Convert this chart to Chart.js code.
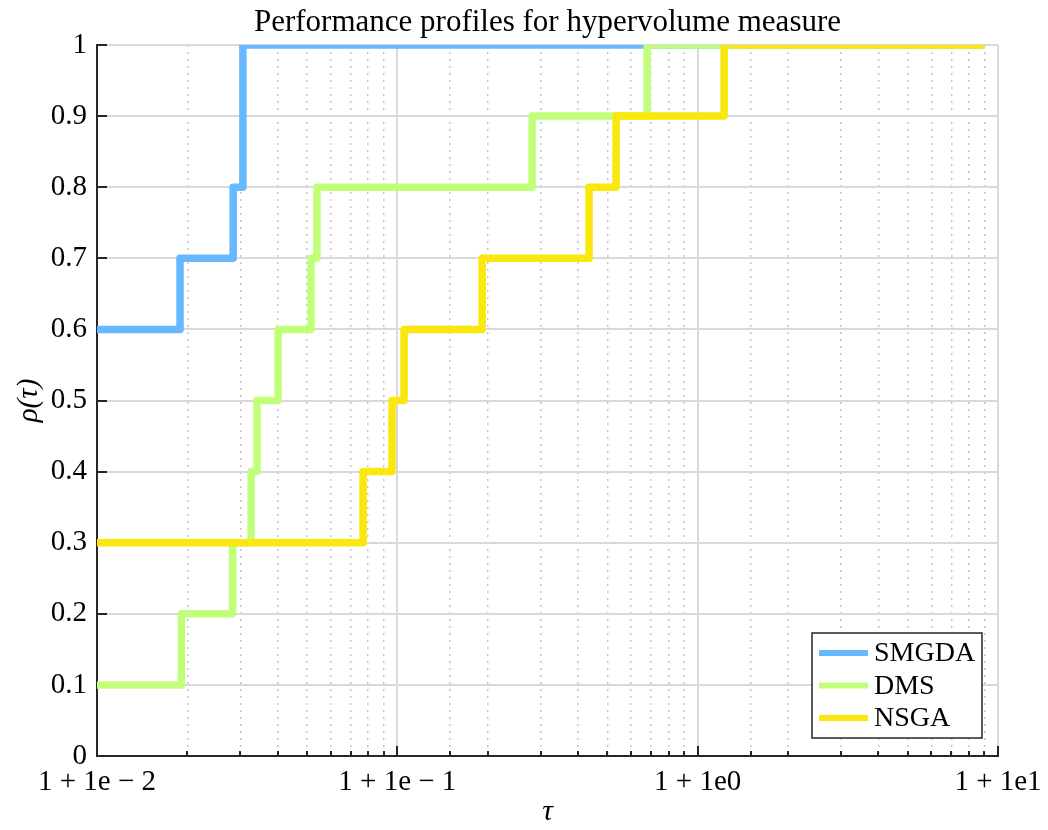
<!DOCTYPE html>
<html lang="en">
<head>
    <meta charset="UTF-8">
    <title>Performance profiles for hypervolume measure</title>
    <script src="https://cdn.jsdelivr.net/npm/chart.js"></script>
    <style>
        html, body { margin: 0; padding: 0; background: #fff; }
        #wrap { width: 1048px; height: 830px; }
    </style>
</head>
<body>

<div id="wrap">
    <canvas id="profils"></canvas>
</div>

<script>
    // tau - 1 where each step happens, and the rho value reached there
    const smgdaTau = [0.01, 0.0189, 0.0284, 0.0306, 9];
    const smgdaRho = [0.6, 0.7, 0.8, 1.0, 1.0];

    const dmsTau = [0.01, 0.0191, 0.0283, 0.0326, 0.0341, 0.0401, 0.0516, 0.0540, 0.281, 0.679, 9];
    const dmsRho = [0.1, 0.2, 0.3, 0.4, 0.5, 0.6, 0.7, 0.8, 0.9, 1.0, 1.0];

    const nsgaTau = [0.01, 0.0769, 0.0960, 0.1053, 0.1915, 0.435, 0.535, 1.225, 9];
    const nsgaRho = [0.3, 0.4, 0.5, 0.6, 0.7, 0.8, 0.9, 1.0, 1.0];

    const seriesNames = ['SMGDA', 'DMS', 'NSGA'];
    const seriesColors = ['#66b9fe', '#c1ff7b', '#fae70c'];

    const xTickLabels = {'-2': '1 + 1e − 2', '-1': '1 + 1e − 1', '0': '1 + 1e0', '1': '1 + 1e1'};
    const titre = 'Performance profiles for hypervolume measure';

    const serif = "'Liberation Serif', 'DejaVu Serif', serif";

    function points(xs, ys) {
        return xs.map((x, i) => ({x: x, y: ys[i]}));
    }

    function isDecade(v) {
        const l = Math.log10(v);
        return Math.abs(l - Math.round(l)) < 1e-6;
    }

    // small ticks pointing into the plot, like the matlab axes
    const ticksDedans = {
        id: 'ticksDedans',
        beforeDatasetsDraw(chart) {
            const ctx = chart.ctx;
            const area = chart.chartArea;
            const xs = chart.scales.x;
            const ys = chart.scales.y;
            ctx.save();
            ctx.strokeStyle = '#262626';
            ctx.lineWidth = 2;
            ctx.beginPath();
            ys.ticks.forEach(t => {
                const py = Math.round(ys.getPixelForValue(t.value));
                ctx.moveTo(area.left, py);
                ctx.lineTo(area.left + 10, py);
            });
            xs.ticks.forEach(t => {
                const px = Math.round(xs.getPixelForValue(t.value));
                const len = isDecade(t.value) ? 10 : 5;
                ctx.moveTo(px, area.bottom);
                ctx.lineTo(px, area.bottom - len);
            });
            ctx.stroke();
            ctx.restore();
        }
    };

    // legend box in the lower right corner of the plot
    const legendeCoin = {
        id: 'legendeCoin',
        afterDraw(chart) {
            const ctx = chart.ctx;
            const area = chart.chartArea;
            const w = 170, h = 105;
            const x0 = area.right - 16 - w;
            const y0 = area.bottom - 18 - h;
            ctx.save();
            ctx.fillStyle = '#fff';
            ctx.fillRect(x0, y0, w, h);
            ctx.strokeStyle = '#262626';
            ctx.lineWidth = 1.5;
            ctx.strokeRect(x0, y0, w, h);
            ctx.font = '28px ' + serif;
            ctx.textBaseline = 'middle';
            ctx.fillStyle = '#000';
            chart.data.datasets.forEach((ds, i) => {
                const cy = y0 + 20 + i * 32.5;
                ctx.strokeStyle = ds.borderColor;
                ctx.lineWidth = 6;
                ctx.beginPath();
                ctx.moveTo(x0 + 7, cy);
                ctx.lineTo(x0 + 56, cy);
                ctx.stroke();
                ctx.fillText(ds.label, x0 + 62, cy + 1);
            });
            ctx.restore();
        }
    };

    const ctx = document.getElementById('profils').getContext('2d');

    const chart = new Chart(ctx, {
        type: 'line',
        data: {
            datasets: [
                {label: seriesNames[0], data: points(smgdaTau, smgdaRho), borderColor: seriesColors[0], order: 3},
                {label: seriesNames[1], data: points(dmsTau, dmsRho), borderColor: seriesColors[1], order: 2},
                {label: seriesNames[2], data: points(nsgaTau, nsgaRho), borderColor: seriesColors[2], order: 1}
            ].map(ds => Object.assign(ds, {
                stepped: 'before',
                borderWidth: 7.5,
                borderJoinStyle: 'round',
                pointRadius: 0,
                fill: false
            }))
        },
        options: {
            responsive: true,
            maintainAspectRatio: false,
            animation: false,
            layout: {padding: {left: 0, right: 50, top: 0, bottom: 0}},
            scales: {
                x: {
                    type: 'logarithmic',
                    min: 0.01,
                    max: 10,
                    afterFit(scale) {
                        scale.height = 74;
                        scale.paddingLeft = 0;
                        scale.paddingRight = 0;
                    },
                    grid: {
                        drawTicks: false,
                        color: c => isDecade(c.tick.value) ? '#d9d9d9' : '#c4c4c4',
                        lineWidth: c => isDecade(c.tick.value) ? 2 : 1.5
                    },
                    border: {
                        color: '#262626',
                        width: 2,
                        dash: c => (c.tick && !isDecade(c.tick.value)) ? [2, 5] : []
                    },
                    ticks: {
                        autoSkip: false,
                        maxRotation: 0,
                        padding: 9,
                        color: '#000',
                        font: {family: serif, size: 29},
                        callback: v => isDecade(v) ? xTickLabels[String(Math.round(Math.log10(v)))] : ''
                    },
                    title: {
                        display: true,
                        text: 'τ',
                        color: '#000',
                        font: {family: serif, size: 30, style: 'italic'},
                        padding: {top: 0, bottom: 0}
                    }
                },
                y: {
                    min: 0,
                    max: 1,
                    afterFit(scale) {
                        scale.width = 97;
                        scale.paddingTop = 0;
                        scale.paddingBottom = 0;
                    },
                    grid: {
                        drawTicks: false,
                        color: '#d9d9d9',
                        lineWidth: 2
                    },
                    border: {color: '#262626', width: 2},
                    ticks: {
                        stepSize: 0.1,
                        padding: 10,
                        color: '#000',
                        font: {family: serif, size: 29},
                        callback: v => String(+v.toFixed(1))
                    },
                    title: {
                        display: true,
                        text: 'ρ(τ)',
                        color: '#000',
                        font: {family: serif, size: 29, style: 'italic'},
                        padding: {top: 12, bottom: 0}
                    }
                }
            },
            plugins: {
                legend: {display: false},
                tooltip: {enabled: false},
                title: {
                    display: true,
                    fullSize: false,
                    text: titre,
                    color: '#000',
                    font: {family: serif, size: 31, weight: 'normal'},
                    padding: {top: 4, bottom: 3.8}
                }
            }
        },
        plugins: [ticksDedans, legendeCoin]
    });
</script>

</body>
</html>
